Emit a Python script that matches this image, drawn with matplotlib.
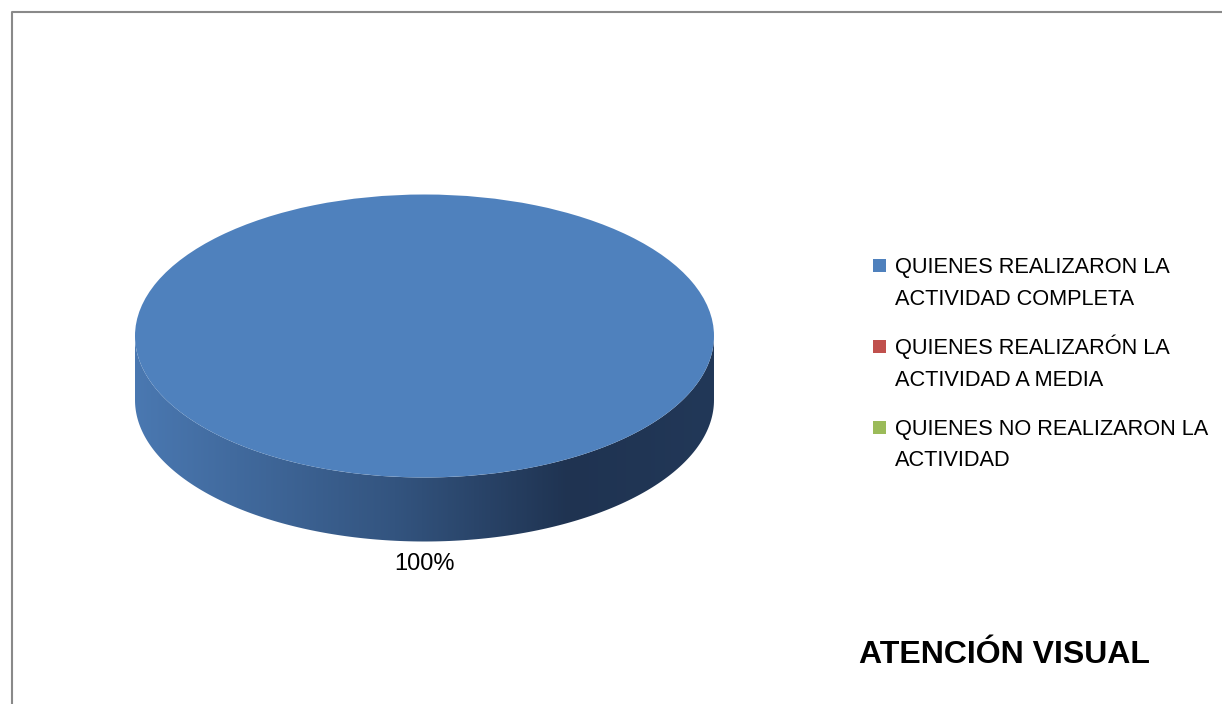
import matplotlib
matplotlib.use("Agg")
import matplotlib.pyplot as plt
import numpy as np
from matplotlib.colors import LinearSegmentedColormap
from matplotlib.patches import Polygon, Rectangle
from matplotlib.lines import Line2D

# datos
categorias = ["QUIENES REALIZARON LA\nACTIVIDAD COMPLETA",
              "QUIENES REALIZARÓN LA\nACTIVIDAD A MEDIA",
              "QUIENES NO REALIZARON LA\nACTIVIDAD"]
valores = [100, 0, 0]
colores = ["#4f81bd", "#c0504d", "#9bbb59"]
titulo = "ATENCIÓN VISUAL"

W, H = 1222, 704
fig = plt.figure(figsize=(W / 100, H / 100), dpi=100)
fig.patch.set_facecolor("white")

# eje en toda la figura, el círculo unidad se ve como elipse
ax = fig.add_axes([0, 0, 1, 1])
cx, cy, rx, ry = 424.5, 336, 289.5, 141.5
prof = 64 / ry  # grosor del "3D"

wedges, textos, autotextos = ax.pie(
    valores, colors=colores, startangle=90, counterclock=False,
    autopct=lambda p: "%.0f%%" % p if p > 0 else "",
    pctdistance=(570 - cy) / ry,
    wedgeprops=dict(linewidth=0), textprops=dict(fontsize=17, family="Liberation Sans"))
for t in autotextos:
    t.set_va("baseline")

ax.set_aspect("auto")
ax.set_xlim(-cx / rx, (W - cx) / rx)
ax.set_ylim((cy - H) / ry, cy / ry)
ax.axis("off")

# lateral con degradado
t = np.linspace(np.pi, 2 * np.pi, 200)
borde = np.column_stack([np.cos(t), np.sin(t)])
lado = np.vstack([borde, (borde - [0, prof])[::-1]])
poly = Polygon(lado, closed=True, facecolor="none", edgecolor="none")
ax.add_patch(poly)
cmap = LinearSegmentedColormap.from_list(
    "lado", [(0, "#4a78b1"), (0.45, "#33547f"), (0.75, "#1f3351"), (1, "#223858")])
grad = np.linspace(0, 1, 256).reshape(1, -1)
im = ax.imshow(grad, cmap=cmap, extent=(-1, 1, -1 - prof, 0), aspect="auto", zorder=0)
im.set_clip_path(poly)

# leyenda a mano
for i, (lab, col) in enumerate(zip(categorias, colores)):
    base = 273 + 81 * i
    fig.patches.append(Rectangle((873 / W, 1 - (base - 1) / H), 13 / W, 13 / H,
                                 transform=fig.transFigure, facecolor=col,
                                 edgecolor="none", figure=fig))
    for j, linea in enumerate(lab.split("\n")):
        fig.text(895 / W, 1 - (base + 31.5 * j) / H, linea, fontsize=15.7,
                 family="Liberation Sans", va="baseline", ha="left")

fig.text(859 / W, 1 - 663 / H, titulo, fontsize=23, fontweight="bold",
         family="Liberation Sans", va="baseline", ha="left")

# marco
fig.add_artist(Line2D(np.array([12, 12, W]) / W, 1 - np.array([H, 12, 12]) / H,
                      transform=fig.transFigure, color="#898989", linewidth=1.5))

fig.savefig("out.png", dpi=100)
